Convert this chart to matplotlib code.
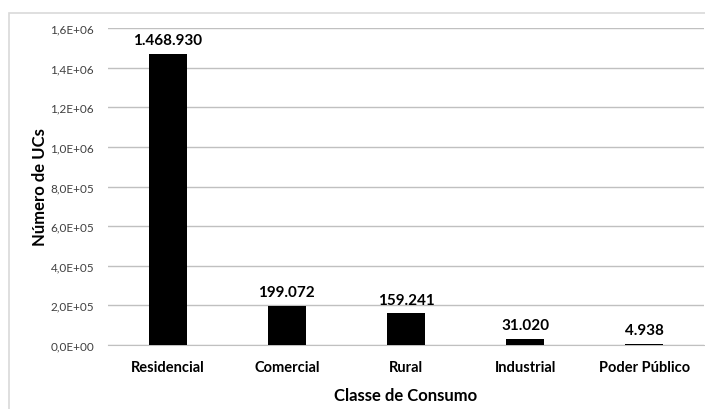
import matplotlib.pyplot as plt
from matplotlib.patches import Rectangle
from matplotlib.ticker import FuncFormatter, MultipleLocator

plt.rcParams['font.family'] = ['Lato', 'DejaVu Sans']

classes = ["Residencial", "Comercial", "Rural", "Industrial", "Poder Público"]
ucs = [1468930, 199072, 159241, 31020, 4938]

fig = plt.figure(figsize=(7.05, 4.10), dpi=100)
ax = fig.add_axes([108 / 705, 64 / 410, 596 / 705, 317 / 410])

# moldura do gráfico (estilo Excel)
fig.patches.append(Rectangle((9 / 705, -0.1), 1.0, (410 - 14) / 410 + 0.1,
                             transform=fig.transFigure, fill=False,
                             edgecolor="#d9d9d9", linewidth=1.2))

x = range(len(classes))
bars = ax.bar(x, ucs, width=0.32, color="black", zorder=3)

for bar, v in zip(bars, ucs):
  label = f"{v:,}".replace(",", ".")
  ax.annotate(label, (bar.get_x() + bar.get_width() / 2, v),
              xytext=(0, 5), textcoords="offset points",
              ha="center", va="bottom", fontsize=11, fontweight="bold")

ax.set_xlim(-0.5, len(classes) - 0.5)
ax.set_ylim(0, 1.6e6)
ax.yaxis.set_major_locator(MultipleLocator(2e5))
ax.yaxis.set_major_formatter(
  FuncFormatter(lambda v, p: f"{v:.1E}".replace(".", ",")))
ax.set_xticks(list(x))
ax.set_xticklabels(classes, fontsize=10.5, fontweight="bold")
ax.tick_params(axis="y", labelsize=8.5, length=0, pad=10, colors="#404040")
ax.tick_params(axis="x", length=0, pad=11)

ax.grid(axis="y", color="#c0c0c0", linewidth=1, zorder=0)
for side in ["top", "right", "left"]:
  ax.spines[side].set_visible(False)
ax.spines["bottom"].set_color("#c0c0c0")

ax.set_xlabel("Classe de Consumo", fontsize=12, fontweight="bold", labelpad=9)
ax.set_ylabel("Número de UCs", fontsize=12, fontweight="bold", labelpad=2)

fig.savefig("out.png", dpi=100)
